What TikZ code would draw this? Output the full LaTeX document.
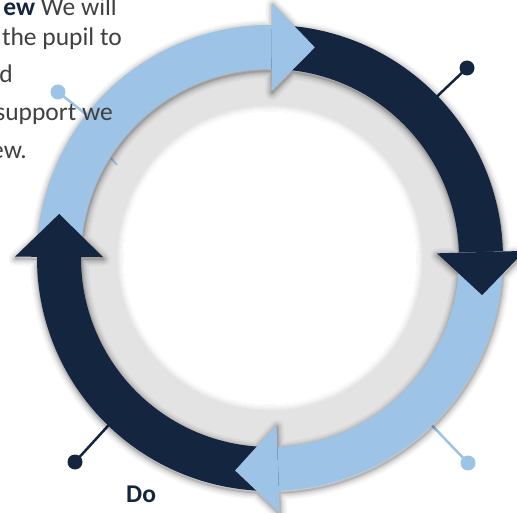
\documentclass[tikz,border=0pt]{standalone}
\usepackage{fontspec}
\setmainfont{Carlito}
\usetikzlibrary{calc}
\definecolor{lightblue}{HTML}{9DC3E6}
\definecolor{navy}{HTML}{13253F}
\definecolor{ringgray}{HTML}{E3E3E3}
\definecolor{txtgray}{HTML}{404040}
\tikzset{
  txt/.style={anchor=base east, inner sep=0pt, font=\fontsize{25.5}{30}\selectfont, text=txtgray},
  pindot/.style={circle, inner sep=0pt, minimum size=15pt},
  pinline/.style={line width=2.5pt},
}
\newcommand\bandsec[2]{(#1:233) arc[start angle=#1, end angle=#2, radius=233] -- (#2:189) arc[start angle=#2, end angle=#1, radius=189] -- cycle}
\newcommand\headtri[1]{(#1:167) -- (#1:255) -- ($(#1:211)+(#1-90:43)$) -- cycle}
\begin{document}
\begin{tikzpicture}[x=1pt,y=1pt]
\useasboundingbox (0,0) rectangle (517,512);
\clip (0,0) rectangle (517,512);
% pins
\coordinate (a1) at (428,407);
\coordinate (a2) at (117,96);
\coordinate (a3) at (423,96);
\coordinate (a4) at (97,389);
\node[pindot, fill=navy] (p1) at (467,444) {};
\node[pindot, fill=navy] (p2) at (75,50) {};
\node[pindot, fill=lightblue] (p3) at (468,49) {};
\node[pindot, fill=lightblue] (p4) at (58,420) {};
\draw[pinline, navy] (p1.center) -- (a1);
\draw[pinline, navy] (p2.center) -- (a2);
\draw[pinline, lightblue] (p3.center) -- (a3);
\draw[pinline, lightblue] (p4.center) -- (a4);
\begin{scope}[shift={(270,254)}]
  % gray ring
  \fill[ringgray] (0,0) circle[radius=190];
  % tick seen through
  \coordinate (k1) at (-159,100);
  \coordinate (k2) at (-153,93);
  \draw[pinline, lightblue, line width=2pt] (k1) -- (k2);
  % white centre with soft edge
  \foreach \i/\o in {6/0.15,5/0.3,4/0.45,3/0.6,2/0.75,1/0.9}
    \draw[white, opacity=\o, line width=1.2pt] (0,0) circle[radius=146+\i];
  \fill[white] (0,0) circle[radius=146.5];
  % shadow halo of arrows
  \begin{scope}[shift={(0.5,-2)}]
  \foreach \w/\o in {14/0.04,10/0.05,7/0.06,4/0.08,2/0.1}
    \draw[black, opacity=\o, line width=\w pt, line join=round]
      \bandsec{179.7}{89.5} \bandsec{89.5}{1.6} \bandsec{1.6}{-87.8} \bandsec{-87.8}{-180.3}
      \headtri{89.5} \headtri{1.6} \headtri{-87.8} \headtri{179.7};
  \end{scope}
  % bodies
  \fill[lightblue] \bandsec{179.7}{89.5};
  \fill[navy] \bandsec{89.5}{1.6};
  \fill[lightblue] \bandsec{1.6}{-87.8};
  \fill[navy] \bandsec{-87.8}{-180.3};
  % heads
  \fill[lightblue] \headtri{89.5};
  \fill[navy] \headtri{1.6};
  \fill[lightblue] \headtri{-87.8};
  \fill[navy] \headtri{179.7};
\end{scope}
% text
\node[txt] (t1) at (117,496) {\textbf{\color{navy}ew} We will};
\node[txt] (t2) at (122,466) {the pupil to};
\node[txt] (t3) at (13,429) {d};
\node[txt] (t4) at (113,391) {support we};
\node[txt] (t5) at (27,353) {ew.};
\node[anchor=base west, inner sep=0pt, font=\fontsize{25.5}{30}\selectfont\bfseries, text=navy] (do) at (126,10) {Do};
\end{tikzpicture}
\end{document}
